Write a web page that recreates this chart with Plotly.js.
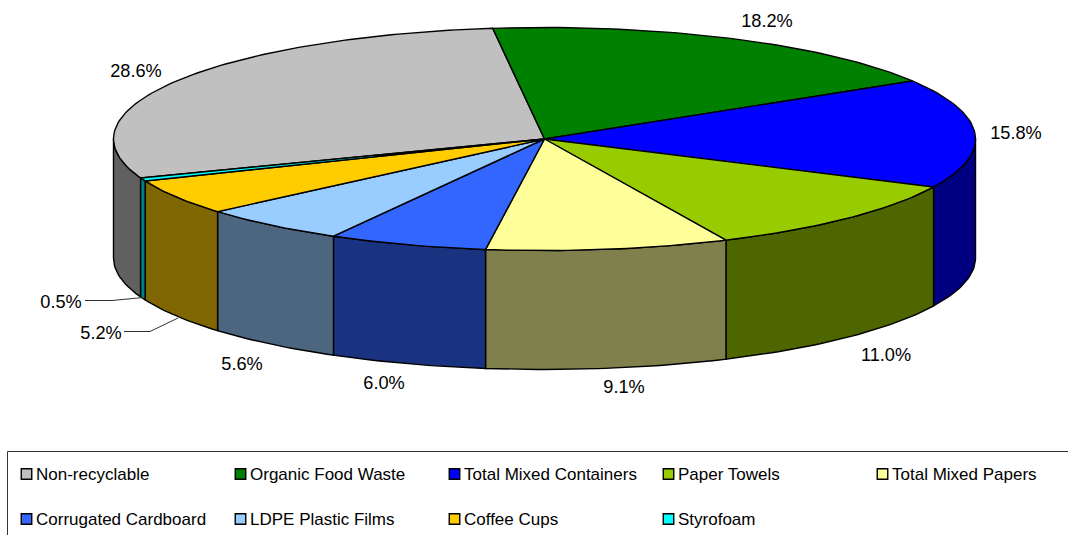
<!DOCTYPE html>
<html>
<head>
<meta charset="utf-8">
<script src="https://cdn.plot.ly/plotly-3.0.1.min.js"></script>
<style>html,body{margin:0;padding:0;background:#fff}#chart{width:1068px;height:535px}</style>
</head>
<body>
<div id="chart"></div>
<script>
// ---- Data ----
const categories = ["Non-recyclable","Organic Food Waste","Total Mixed Containers","Paper Towels","Total Mixed Papers","Corrugated Cardboard","LDPE Plastic Films","Coffee Cups","Styrofoam"];
const shares = [28.64,18.2,15.8,11.0,9.1,5.96,5.56,5.16,0.46];
const topColors = ["#C0C0C0","#008000","#0000FF","#99CC00","#FFFF99","#3366FF","#99CCFF","#FFCC00","#00FFFF"];
const wallColors = ["#606060","#004000","#000080","#4D6600","#80804D","#1A3380","#4D6680","#806600","#008080"];

// ---- Layout constants (pixel-scaled axes) ----
const W = 1068, H = 535;
const cx = 544.5, cy = 139, rx = 431, ry = 111.5, depth = 119;
const boundaryAtTop = -6.9;               // degrees clockwise from 12 o'clock: Non-recyclable / Organic
const labelX = [136,767,1016,886,624,384,242,101,61];
const labelY = [72,22,134,356,388,384,365,334,303];
const legendCols = [26.5,240.5,454.5,668.5,882.5];
const legendRows = [474,519];

const pt = (t, dz) => {
  const r = t * Math.PI / 180;
  return [cx + rx * Math.sin(r), cy - ry * Math.cos(r) + (dz || 0)];
};
const arc = (a, b, dz) => {
  const out = [], n = Math.max(2, Math.ceil(Math.abs(b - a)));
  for (let i = 0; i <= n; i++) out.push(pt(a + (b - a) * i / n, dz));
  return out;
};
const polyTrace = (pts, color, name) => ({
  type: "scatter", mode: "lines", x: pts.map(p => p[0]), y: pts.map(p => p[1]),
  fill: "toself", fillcolor: color, line: {color: "#000", width: 1.4},
  hoverinfo: "skip", showlegend: false, name: name
});

// slice angular ranges: Organic onward clockwise from the top boundary, Non-recyclable closes the circle
const ranges = [];
let cursor = boundaryAtTop;
for (let i = 1; i < shares.length; i++) {
  const next = cursor + shares[i] * 3.6;
  ranges[i] = [cursor, next];
  cursor = next;
}
ranges[0] = [cursor, boundaryAtTop + 360];

const traces = [];
// walls (only the front half of the rim is visible)
ranges.forEach((r, i) => {
  const a = Math.max(r[0], 90), b = Math.min(r[1], 270);
  if (b <= a) return;
  const pts = arc(a, b, 0).concat(arc(b, a, depth));
  pts.push(pts[0]);
  traces.push(polyTrace(pts, wallColors[i], categories[i] + " side"));
});
// top faces
ranges.forEach((r, i) => {
  const pts = [[cx, cy]].concat(arc(r[0], r[1], 0));
  pts.push([cx, cy]);
  traces.push(polyTrace(pts, topColors[i], categories[i]));
});
// leader lines for the two small labels
traces.push({type:"scatter",mode:"lines",x:[85,112,143],y:[300.5,300.5,297.5],line:{color:"#333",width:1},hoverinfo:"skip",showlegend:false});
traces.push({type:"scatter",mode:"lines",x:[124,150,178],y:[331.5,331.5,318],line:{color:"#333",width:1},hoverinfo:"skip",showlegend:false});
// percentage labels
traces.push({
  type:"scatter",mode:"text",x:labelX,y:labelY,
  text:shares.map(v => v.toFixed(1) + "%"),textposition:"middle center",
  textfont:{family:"Liberation Sans, Arial, sans-serif",size:18.2,color:"#000"},
  hoverinfo:"skip",showlegend:false
});
// legend entries: swatch and text
categories.forEach((c, i) => {
  const lx = legendCols[i % 5], ly = legendRows[Math.floor(i / 5)];
  traces.push({
    type:"scatter",mode:"markers",x:[lx],y:[ly],
    marker:{symbol:"square",size:10.5,color:topColors[i],line:{color:"#000",width:1.4}},
    hoverinfo:"skip",showlegend:false,name:c,cliponaxis:false
  });
  traces.push({
    type:"scatter",mode:"text",x:[lx + 9.5],y:[ly + 1.5],
    text:[c],textposition:"middle right",
    textfont:{family:"Liberation Sans, Arial, sans-serif",size:17,color:"#000"},
    hoverinfo:"skip",showlegend:false,name:c,cliponaxis:false
  });
});

const layout = {
  width:W,height:H,margin:{l:0,r:0,t:0,b:0,pad:0},autosize:false,showlegend:false,
  paper_bgcolor:"#fff",plot_bgcolor:"#fff",
  xaxis:{range:[0,W],visible:false,fixedrange:true},
  yaxis:{range:[H,0],visible:false,fixedrange:true},
  shapes:[{type:"rect",xref:"x",yref:"y",x0:7.5,x1:W+5,y0:451.5,y1:H+5,line:{color:"#333",width:1},fillcolor:"rgba(0,0,0,0)",layer:"below"}]
};
Plotly.newPlot("chart",traces,layout,{displayModeBar:false,staticPlot:true});
</script>
</body>
</html>
